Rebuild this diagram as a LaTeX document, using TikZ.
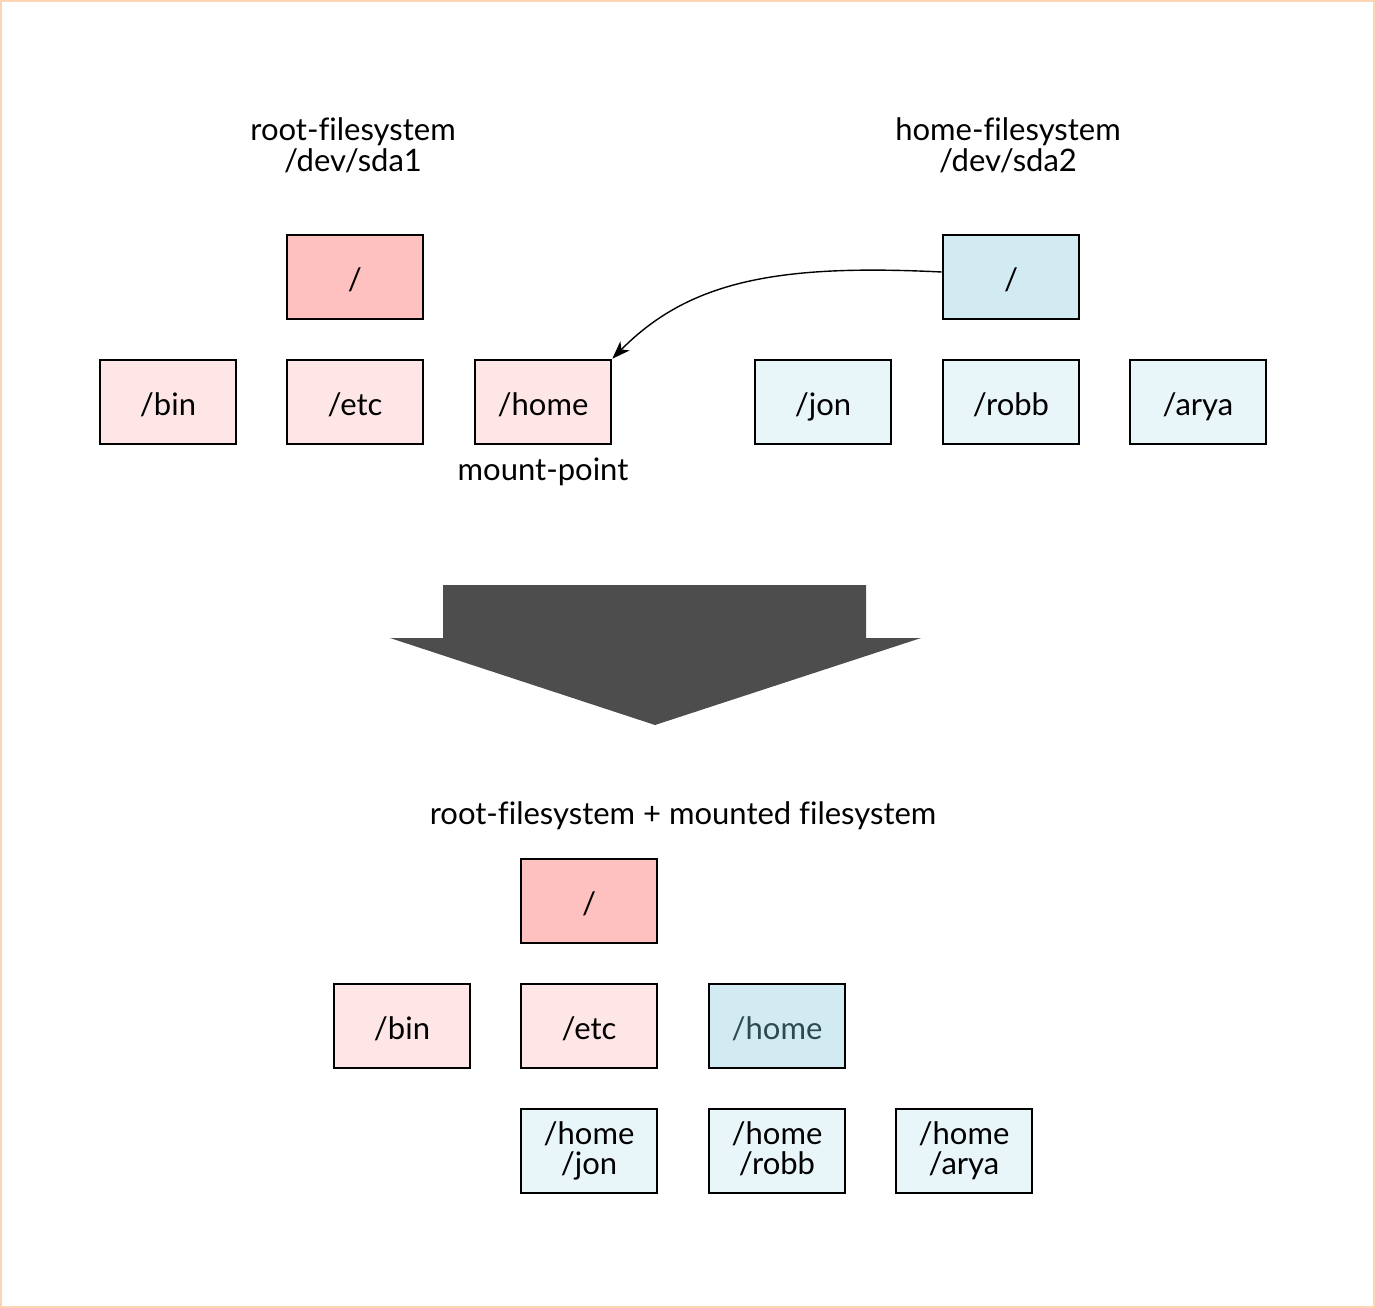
\documentclass[tikz,border=0pt]{standalone}
\usepackage{fontspec}
\setmainfont{Lato}[Ligatures=NoCommon]
\usetikzlibrary{arrows.meta}
\definecolor{rootred}{HTML}{FFC0C0}
\definecolor{lightred}{HTML}{FFE6E6}
\definecolor{rootblue}{HTML}{D2EBF2}
\definecolor{lightblue}{HTML}{E8F5F9}
\definecolor{frame}{HTML}{FDD5B5}
\definecolor{bigarrow}{HTML}{4D4D4D}
\definecolor{hometext}{HTML}{2E4A50}
\begin{document}
\begin{tikzpicture}[x=1pt,y=-1pt,
  dirbox/.style={draw=black,line width=2.6pt,minimum width=136pt,minimum height=84pt,inner sep=0pt,font=\fontsize{31}{31}\selectfont,align=center,text height=26pt,text depth=0pt},
  twobox/.style={draw=black,line width=2.6pt,minimum width=136pt,minimum height=84pt,inner sep=0pt,font=\fontsize{31}{30}\selectfont,align=center,fill=lightblue,execute at end node={\vphantom{jy}}},
  lbl/.style={font=\fontsize{31}{31}\selectfont,align=center,inner sep=0pt}]
\useasboundingbox (0,0) rectangle (1375,1308);
\draw[frame,line width=1.5pt] (1,1) rectangle (1374,1307);
% titles
\node[lbl] (t1) at (353,145) {root-filesystem\\/dev/sda1};
\node[lbl] (t2) at (1008,145) {home-filesystem\\/dev/sda2};
% left tree
\node[dirbox,fill=rootred] (r) at (355,277) {/};
\node[dirbox,fill=lightred] (bin) at (168,402) {/bin};
\node[dirbox,fill=lightred] (etc) at (355,402) {/etc};
\node[dirbox,fill=lightred] (home) at (543,402) {/home};
\node[lbl] (mp) at (543,472) {mount-point};
% right tree
\node[dirbox,fill=rootblue] (r2) at (1011,277) {/};
\node[dirbox,fill=lightblue] (jon) at (823,402) {/jon};
\node[dirbox,fill=lightblue] (robb) at (1011,402) {/robb};
\node[dirbox,fill=lightblue] (arya) at (1198,402) {/arya};
% mount arrow
\draw[line width=1.4pt,-{Stealth[length=18pt,width=13pt,inset=5pt]}] (r2.west) ++(0,-5) .. controls (780,264) and (690,280) .. (home.north east);
% big arrow
\fill[bigarrow] (443,585) -- (866,585) -- (866,638) -- (921,638) -- (655,725) -- (390,638) -- (443,638) -- cycle;
% bottom
\node[lbl] (t3) at (683,816) {root-filesystem + mounted filesystem};
\node[dirbox,fill=rootred] (br) at (589,901) {/};
\node[dirbox,fill=lightred] (bbin) at (402,1026) {/bin};
\node[dirbox,fill=lightred] (betc) at (589,1026) {/etc};
\node[dirbox,fill=rootblue,text=hometext] (bhome) at (777,1026) {/home};
\node[twobox] (bjon) at (589,1151) {/home\\/jon};
\node[twobox] (brobb) at (777,1151) {/home\\/robb};
\node[twobox] (barya) at (964,1151) {/home\\/arya};
\end{tikzpicture}
\end{document}
